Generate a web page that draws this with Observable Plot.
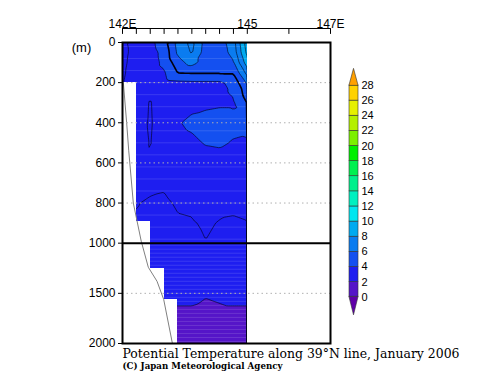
<!DOCTYPE html>
<html><head><meta charset="utf-8">
<script src="https://cdn.jsdelivr.net/npm/d3@7"></script>
<script src="https://cdn.jsdelivr.net/npm/@observablehq/plot@0.6"></script>
<style>
html,body{margin:0;padding:0;background:#fff;}
#wrap{position:relative;width:500px;height:387px;overflow:hidden;background:#fff;}
#wrap svg{position:absolute;left:0;top:0;}
</style></head><body><div id="wrap"></div>
<script>
// ---- data grid: longitudes (deg E) and depths (m)
const lons = [142, 142.333, 142.667, 143, 143.333, 143.667, 144, 144.333, 144.667, 145];
const depths = [0, 50, 100, 150, 200, 250, 300, 400, 500, 600, 700, 800, 900, 1000, 1250, 1500, 1750, 2000];
// potential temperature (deg C) per longitude column, one value per depth
const temp142_00 = [2.8, 2.7, 2.75, 2.85, 2.95, 3.2, 3.3, 3.3, 3.3, 3.2, 3.2, 3.1, 3.0, 2.9, 2.5, 2.1, 1.95, 1.85];
const temp142_33 = [3.4, 3.4, 3.5, 3.5, 3.5, 3.4, 3.4, 3.3, 3.3, 3.2, 3.15, 3.02, 2.95, 2.88, 2.45, 2.06, 1.94, 1.85];
const temp142_67 = [3.7, 3.6, 3.6, 3.6, 3.3, 3.05, 2.95, 2.92, 2.97, 3.05, 3.1, 2.95, 2.9, 2.85, 2.45, 2.06, 1.94, 1.85];
const temp143_00 = [4.6, 4.3, 4.2, 3.9, 3.7, 3.6, 3.5, 3.45, 3.4, 3.3, 3.06, 2.93, 2.88, 2.84, 2.45, 2.06, 1.94, 1.85];
const temp143_33 = [6.4, 6.2, 5.6, 5.05, 3.8, 3.7, 3.7, 3.95, 3.75, 3.5, 3.2, 3.05, 2.95, 2.88, 2.45, 2.06, 1.94, 1.85];
const temp143_67 = [7.3, 7.1, 6.4, 5.1, 3.85, 3.75, 3.8, 4.15, 3.85, 3.6, 3.3, 3.07, 2.97, 2.9, 2.45, 2.06, 1.94, 1.85];
const temp144_00 = [5.6, 5.5, 5.5, 5.1, 3.85, 3.8, 3.85, 4.25, 4.05, 3.7, 3.4, 3.2, 3.05, 2.99, 2.45, 2.02, 1.92, 1.84];
const temp144_33 = [5.5, 5.4, 5.4, 5.1, 3.85, 3.85, 3.9, 4.3, 4.1, 3.7, 3.35, 3.1, 2.98, 2.92, 2.45, 2.04, 1.94, 1.85];
const temp144_67 = [6.6, 6.4, 5.9, 5.1, 4.3, 4.1, 3.9, 4.2, 3.95, 3.6, 3.3, 3.05, 2.97, 2.9, 2.45, 2.06, 1.94, 1.85];
const temp145_00 = [9.6, 9.3, 8.6, 7.4, 6.2, 5.5, 5.05, 4.3, 3.9, 3.6, 3.3, 3.1, 2.99, 2.9, 2.45, 2.06, 1.94, 1.85];
const tempColumns = [temp142_00, temp142_33, temp142_67, temp143_00, temp143_33, temp143_67, temp144_00, temp144_33, temp144_67, temp145_00];

// sea-floor mask (no data): each step runs from the coast (142E) to its east edge, below its top depth
const maskEast = [142.333, 142.667, 143, 143.333];
const maskTop  = [200, 890, 1250, 1560];
// section has no data east of 145E
const dataEast = 145;
const sectionEast = 147;
// bottom topography line
const bathyLon   = [142.02, 142.1, 142.15, 142.26, 142.45, 142.62, 142.83, 142.99, 143.2];
const bathyDepth = [200, 400, 540, 800, 990, 1240, 1380, 1560, 2000];

// colour classes
const colorLevels = [0, 2, 4, 6, 8, 10, 12, 14, 16, 18, 20, 22, 24, 26, 28];
const colorRange = ["#6000a8", "#5515c8", "#1e1ef0", "#1450f0", "#0a7cf0", "#00aaf0", "#00e6f0", "#00f0c0",
                    "#00f08c", "#00f050", "#00f000", "#7cf000", "#b4f000", "#e6f000", "#ffd200", "#ffa000"];
const lineLevels = [1, 2, 3, 4, 6, 7, 8, 9, 11, 12];
const thickLevels = [5, 10];

// axes
const depthTicks = [0, 200, 400, 600, 800, 1000, 1500, 2000];
const gridDepths = [200, 400, 600, 800, 1500];
const lonLabelValues = [142, 145, 147];
const lonLabelTexts = ["142E", "145", "147E"];
const lonTickValues = [142, 142.333, 142.667, 143, 143.333, 143.667, 144, 144.333, 144.667, 145, 146, 147];

const titleText = "Potential Temperature along 39°N line, January 2006";
const creditText = "(C) Japan Meteorological Agency";

// ---- build tables
const grid = lons.flatMap((lon, i) => depths.map((depth, j) => ({lon, depth, t: tempColumns[i][j]})));
const masks = maskEast.map((e, i) => ({w: lons[0], e, top: maskTop[i], bottom: 2000}))
  .concat([{w: dataEast, e: sectionEast, top: 0, bottom: 2000}]);
const bathy = bathyLon.map((lon, i) => ({lon, depth: bathyDepth[i]}));
const stripeDepths = d3.range(20, 1000, 60).concat(d3.range(1020, 2000, 40));

const colorScale = {type: "threshold", domain: colorLevels, range: colorRange};
const bounds = {x1: 141.9, x2: 145.1, y1: 0, y2: 2000};
const font = "'Liberation Sans', Arial, sans-serif";
// depth axis: 0-1000 m over twice the height of 1000-2000 m
const depthStretch = d => d <= 1000 ? d : 1000 + (d - 1000) / 2;
const tickLine = {draw(context, l) { context.moveTo(0, 0); context.lineTo(0, -l); }};

const plot = Plot.plot({
  width: 500, height: 387,
  marginLeft: 122, marginRight: 170, marginTop: 42, marginBottom: 44,
  style: {fontFamily: font, fontSize: "12px", background: "transparent", overflow: "visible"},
  x: {domain: [142, 147], range: [122, 330], axis: null},
  y: {transform: depthStretch, domain: [0, 1500], range: [42, 343], axis: null},
  color: colorScale,
  marks: [
    Plot.contour(grid, {x: "lon", y: "depth", fill: "t", thresholds: colorLevels, interpolate: "barycentric", ...bounds, clip: true, stroke: "none"}),
    Plot.ruleY(stripeDepths, {x1: 142, x2: 145, stroke: "white", strokeOpacity: 0.13}),
    Plot.contour(grid, {x: "lon", y: "depth", value: "t", thresholds: lineLevels, interpolate: "barycentric", ...bounds, clip: true, fill: "none", stroke: "#000010", strokeWidth: 0.6}),
    Plot.contour(grid, {x: "lon", y: "depth", value: "t", thresholds: thickLevels, interpolate: "barycentric", ...bounds, clip: true, fill: "none", stroke: "#000010", strokeWidth: 1.6}),
    Plot.rect(masks, {x1: "w", x2: "e", y1: "top", y2: "bottom", fill: "white", shapeRendering: "crispEdges"}),
    Plot.line(bathy, {x: "lon", y: "depth", stroke: "#808080", strokeWidth: 1}),
    Plot.ruleY(gridDepths, {stroke: "#b0b0b0", strokeDasharray: "1.5,3"}),
    Plot.ruleY([1000], {stroke: "#000", strokeWidth: 2}),
    Plot.frame({stroke: "#000", strokeWidth: 2}),
    Plot.axisY(depthTicks, {anchor: "left", tickSize: 4, tickPadding: 3, tickFormat: d => String(d), label: null, fontSize: 12}),
    Plot.axisX(lonLabelValues, {anchor: "top", tickSize: 0, tickPadding: 15, tickFormat: d => lonLabelTexts[lonLabelValues.indexOf(d)], label: null, fontSize: 12}),
    Plot.ruleY([0], {dy: -14, stroke: "#000", strokeWidth: 1}),
    Plot.vector(lonTickValues, {x: d => d, frameAnchor: "top", dy: -14, length: 5, rotate: 180, anchor: "start", shape: tickLine, stroke: "#000", strokeWidth: 1}),
    Plot.text(["(m)"], {frameAnchor: "top-left", dx: -41, textAnchor: "middle", fontSize: 13})
  ]
});

const svg = d3.select(plot);
svg.append("text").attr("x", 122.5).attr("y", 357.5).attr("text-anchor", "start")
  .attr("textLength", 337).attr("lengthAdjust", "spacingAndGlyphs")
  .style("font-family", "'DejaVu Serif', serif").style("font-size", "12.5px").attr("fill", "#000")
  .text(titleText);
svg.append("text").attr("x", 122.5).attr("y", 369).attr("text-anchor", "start")
  .attr("textLength", 160).attr("lengthAdjust", "spacingAndGlyphs")
  .style("font-family", "'DejaVu Serif', serif").style("font-weight", "bold").style("font-size", "9.5px").attr("fill", "#000")
  .text(creditText);

// ---- vertical colour bar
const topTri = [{y: 28, x1: 0, x2: 1}, {y: 30.2, x1: 0.5, x2: 0.5}];
const botTri = [{y: 0, x1: 0, x2: 1}, {y: -2.4, x1: 0.5, x2: 0.5}];
const cb = Plot.plot({
  width: 60, height: 275, margin: 0,
  style: {fontFamily: font, fontSize: "11px", background: "transparent", overflow: "visible"},
  x: {domain: [0, 1], range: [9, 18], axis: null},
  y: {domain: [0, 28], range: [241.7, 30], axis: null},
  color: colorScale,
  marks: [
    Plot.rect(colorLevels.slice(0, -1), {x1: 0, x2: 1, y1: d => d, y2: d => d + 2, fill: d => d, stroke: "#333", strokeWidth: 0.6}),
    Plot.areaX(topTri, {y: "y", x1: "x1", x2: "x2", fill: () => 29, stroke: "#333", strokeWidth: 0.6}),
    Plot.areaX(botTri, {y: "y", x1: "x1", x2: "x2", fill: () => -1, stroke: "#333", strokeWidth: 0.6}),
    Plot.text(colorLevels, {x: 1, y: d => d, text: d => String(d), textAnchor: "start", dx: 3, fontSize: 11})
  ]
});
cb.style.left = "340px";
cb.style.top = "55px";

const wrap = document.getElementById("wrap");
wrap.appendChild(plot);
wrap.appendChild(cb);
</script>
</body></html>
